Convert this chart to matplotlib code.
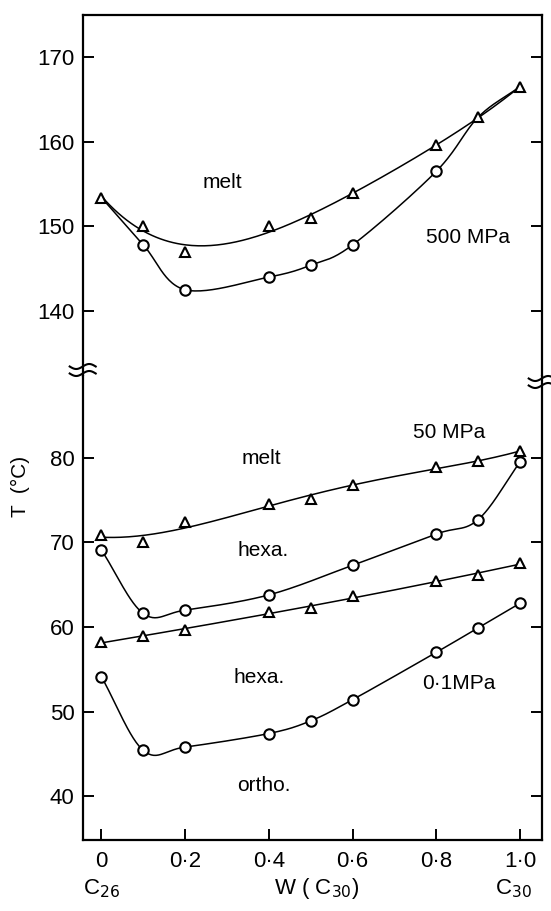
import numpy as np
from matplotlib import pyplot as plt
from matplotlib.lines import Line2D

plt.rcParams['font.family'] = ['Liberation Sans', 'DejaVu Sans']

# composition W(C30)
w = [0, 0.1, 0.2, 0.4, 0.5, 0.6, 0.8, 0.9, 1.0]

# 500 MPa
t500_tri = [153.4, 150.1, 147.0, 150.0, 151.0, 153.9, 159.6, 162.9, 166.5]
w500_circ = [0.1, 0.2, 0.4, 0.5, 0.6, 0.8]
t500_circ = [147.8, 142.5, 144.0, 145.4, 147.8, 156.5]

# 50 MPa
t50_tri = [70.9, 70.0, 72.4, 74.5, 75.2, 76.8, 78.9, 79.6, 80.8]
w50_circ = [0, 0.1, 0.2, 0.4, 0.6, 0.8, 0.9, 1.0]
t50_circ = [69.1, 61.6, 62.0, 63.8, 67.3, 71.0, 72.7, 79.5]

# 0.1 MPa
t01_tri = [58.2, 58.9, 59.7, 61.8, 62.2, 63.7, 65.4, 66.1, 67.6]
t01_circ = [54.1, 45.4, 45.8, 47.4, 48.9, 51.4, 57.0, 59.9, 62.8]

xtick_vals = [0, 0.2, 0.4, 0.6, 0.8, 1.0]
xtick_labels = ['0', '0·2', '0·4', '0·6', '0·8', '1·0']


def smooth(x, y, n=30):
    # catmull-rom through the points, just for drawing
    x = np.asarray(x, float)
    y = np.asarray(y, float)
    px = np.concatenate([[2 * x[0] - x[1]], x, [2 * x[-1] - x[-2]]])
    py = np.concatenate([[2 * y[0] - y[1]], y, [2 * y[-1] - y[-2]]])
    xs, ys = [], []
    t = np.linspace(0, 1, n)
    for i in range(1, len(px) - 2):
        for p, out in ((px, xs), (py, ys)):
            p0, p1, p2, p3 = p[i - 1], p[i], p[i + 1], p[i + 2]
            out.extend(0.5 * (2 * p1 + (-p0 + p2) * t
                              + (2 * p0 - 5 * p1 + 4 * p2 - p3) * t ** 2
                              + (-p0 + 3 * p1 - 3 * p2 + p3) * t ** 3))
    return xs, ys


def fitted(x, y, deg=4):
    # hand-drawn style trend line through the triangles
    c = np.polyfit(x, y, deg)
    xs = np.linspace(min(x), max(x), 200)
    return xs, np.polyval(c, xs)


fig = plt.figure(figsize=(5.51, 9.11), dpi=100)
ax_top = fig.add_axes([0.150, 0.5873, 0.833, 0.3962])
ax_bot = fig.add_axes([0.150, 0.0779, 0.833, 0.5094], sharex=ax_top)

line_kw = dict(color='black', lw=1.1)
mk = dict(ls='none', mfc='white', mec='black', mew=1.5, ms=7.5, zorder=3)

# top panel (500 MPa)
ax_top.plot(*fitted(w, t500_tri, 4), **line_kw)
cx = [w[0]] + w500_circ + w[-2:]
cy = [t500_tri[0]] + t500_circ + t500_tri[-2:]
ax_top.plot(*smooth(cx, cy), **line_kw)
ax_top.plot(w, t500_tri, marker='^', **mk)
ax_top.plot(w500_circ, t500_circ, marker='o', **mk)

# bottom panel (50 MPa, 0.1 MPa)
ax_bot.plot(*fitted(w, t50_tri, 4), **line_kw)
ax_bot.plot(*fitted(w, t01_tri, 3), **line_kw)
ax_bot.plot(*smooth(w50_circ, t50_circ), **line_kw)
ax_bot.plot(*smooth(w, t01_circ), **line_kw)
for xs, ys, m in ((w, t50_tri, '^'), (w50_circ, t50_circ, 'o'),
                  (w, t01_tri, '^'), (w, t01_circ, 'o')):
    ax_bot.plot(xs, ys, marker=m, **mk)

ax_top.set_ylim(132.3, 175)
ax_bot.set_ylim(34.8, 89.7)
ax_bot.set_xlim(-0.045, 1.052)
ax_top.set_yticks([140, 150, 160, 170])
ax_bot.set_yticks([40, 50, 60, 70, 80])
ax_bot.set_xticks(xtick_vals)
ax_bot.set_xticklabels(xtick_labels)

for ax in (ax_top, ax_bot):
    for s in ax.spines.values():
        s.set_linewidth(1.6)
    ax.tick_params(direction='in', length=8, width=1.4, labelsize=16,
                   left=True, right=True, pad=6)
    ax.tick_params(axis='y', labelright=False)
ax_top.spines['bottom'].set_visible(False)
ax_bot.spines['top'].set_visible(False)
ax_top.tick_params(axis='x', bottom=False, labelbottom=False)
ax_bot.tick_params(axis='x', top=False, pad=8)

txt = dict(fontsize=15, ha='center', va='center')
ax_top.text(0.288, 155.2, 'melt', **txt)
ax_top.text(0.876, 148.7, '500 MPa', **txt)
ax_bot.text(0.832, 83.0, '50 MPa', **txt)
ax_bot.text(0.381, 79.9, 'melt', **txt)
ax_bot.text(0.387, 69.0, 'hexa.', **txt)
ax_bot.text(0.376, 54.05, 'hexa.', **txt)
ax_bot.text(0.855, 53.3, '0·1MPa', **txt)
ax_bot.text(0.387, 41.3, 'ortho.', **txt)

tr = ax_bot.get_xaxis_transform()
ax_bot.text(0.0, -0.105, 'C$_{26}$', transform=tr, fontsize=16, ha='center', va='center')
ax_bot.text(0.515, -0.105, 'W ( C$_{30}$)', transform=tr, fontsize=16, ha='center', va='center')
ax_bot.text(0.985, -0.105, 'C$_{30}$', transform=tr, fontsize=16, ha='center', va='center')

fig.text(20 / 551, 1 - 486 / 911, 'T  (°C)', rotation=90, fontsize=15,
         ha='center', va='center')

# break marks on the spines
W, H = 551.0, 911.0
u = np.linspace(-13, 13, 40)
for xc, yc in ((82.7, 370), (541.7, 382)):
    for dy in (-3.5, 3.5):
        yy = yc + dy - 2.5 * np.sin(u / 13 * np.pi)
        fig.add_artist(Line2D((xc + u) / W, 1 - yy / H, color='black', lw=1.5,
                              transform=fig.transFigure))

fig.savefig('out.png', dpi=100)
